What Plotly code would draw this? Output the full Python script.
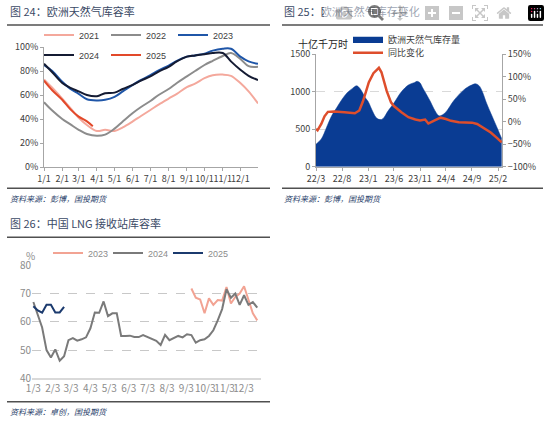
import plotly.graph_objects as go
import pandas as pd

FONT = "Noto Sans CJK SC, Liberation Sans, sans-serif"
LEG_FONT = "Liberation Sans, Noto Sans CJK SC, sans-serif"

# ---- 图24 欧洲天然气库容率 (%) ----
eu_days = ["01-01", "01-15", "02-01", "02-15", "03-01", "03-15", "04-01", "04-15",
           "05-01", "05-15", "06-01", "06-15", "07-01", "07-15", "08-01", "08-15",
           "09-01", "09-15", "10-01", "10-15", "11-01", "11-15", "12-01", "12-15", "12-31"]
eu_2021 = [73, 66, 57, 49, 41, 35, 30, 31, 30, 33, 38, 42.5, 47.5, 52, 57, 61,
           66.5, 69.5, 74, 76.5, 77, 76, 70, 63, 53]
eu_2022 = [54, 47, 40, 35.5, 31, 27.5, 26, 27, 32, 38, 45, 50, 55, 60, 65, 70,
           75.5, 80, 85, 88.5, 92.5, 95, 90, 84, 83.5]
eu_2023 = [85, 80, 71, 65, 61, 56.5, 55.5, 56, 58.5, 63, 68.5, 72.5, 76.5, 80.5, 84.5, 88.5,
           92, 93, 94.5, 97, 98.5, 98.5, 92, 88, 86]
eu_2024 = [86, 79, 70, 66, 63, 60, 59, 61.5, 62, 65, 68.5, 72, 75.5, 79.5, 83.5, 88,
           92, 93, 94, 95, 95, 88, 81, 76, 72.5]
eu_2025_days = ["01-01", "01-15", "02-01", "02-15", "03-01", "03-15", "03-25"]
eu_2025 = [72, 64, 56, 48, 42, 38, 34]

# ---- 图25 欧洲天然气库存变化 ----
stock_dates = ["2022-03-01", "2022-04-01", "2022-05-01", "2022-06-01", "2022-07-01", "2022-08-01",
               "2022-09-01", "2022-10-01", "2022-10-25", "2022-11-15", "2022-12-01", "2022-12-15",
               "2023-01-01", "2023-01-15", "2023-02-01", "2023-02-15", "2023-03-01", "2023-03-20",
               "2023-04-05", "2023-04-25", "2023-06-01", "2023-07-15", "2023-08-25", "2023-10-01",
               "2023-10-15", "2023-11-01", "2023-11-15", "2023-12-10", "2024-01-01", "2024-01-20",
               "2024-02-20", "2024-03-10", "2024-04-01", "2024-05-20", "2024-07-15", "2024-08-30",
               "2024-09-25", "2024-10-15", "2024-11-01", "2024-11-25", "2024-12-25", "2025-02-01",
               "2025-02-22"]
stock_twh = [300, 370, 520, 680, 790, 900, 990, 1045, 1080, 1040, 980, 920,
             870, 800, 715, 660, 635, 630, 660, 735, 850, 1000, 1090, 1125,
             1140, 1120, 1060, 960, 870, 780, 680, 690, 730, 890, 1025, 1090,
             1105, 1075, 1000, 850, 690, 490, 375]
yoy_dates = ["2022-03-01", "2022-03-10", "2022-04-01", "2022-04-20", "2022-05-10", "2022-06-15",
             "2022-08-15", "2022-10-15", "2022-11-10", "2022-12-01", "2022-12-20", "2023-01-05",
             "2023-02-01", "2023-02-20", "2023-03-05", "2023-03-20", "2023-04-20", "2023-05-15",
             "2023-06-01", "2023-07-15", "2023-08-25", "2023-10-05", "2023-11-01", "2023-12-01",
             "2023-12-20", "2024-01-20", "2024-03-01", "2024-04-01", "2024-05-01", "2024-06-15",
             "2024-09-01", "2024-10-01", "2024-11-10", "2024-12-20", "2025-01-25", "2025-02-22"]
yoy_pct = [-16, -19, -5, 12, 22, 23, 21, 19, 25, 45, 68, 88,
           108, 116, 120, 110, 68, 43, 35, 21, 10, 5, 3, 5,
           -4, 2, 9, 6, 2, -1, -2, -5, -14, -24, -36, -46]

# ---- 图26 中国LNG接收站库容率 (%) ----
lng_weeks = pd.date_range("2024-01-03", periods=52, freq="7D")
lng_2024 = [67, 62.5, 58, 50, 47.4, 50.2, 46.2, 47.8, 53.5, 54.2, 53.3, 53.8, 54.5,
            57.7, 63.3, 63.2, 67.2, 62, 63, 63, 55, 55, 55.1, 54.6, 54.6, 55.3,
            54.6, 54, 53.3, 51.8, 55.4, 53.5, 54.2, 55, 54.5, 55.6, 55.3, 52.6, 53.5,
            53.8, 55, 57, 60.5, 64.5, 71.5, 68.5, 70, 66, 69.4, 66, 67, 65]
lng_2023 = [71.8, 68.5, 67.9, 63, 68.3, 66, 67.7, 67.5, 72.3, 66.5, 68.8, 70,
            72.6, 68, 63, 60.5]
lng_2025 = [65.5, 64, 63.2, 66, 66, 63.3, 63.3, 65.3]
lng_ticks = ["2024-%02d-03" % m for m in range(1, 13)]


def px(x):
    return x / 550


def py(y):
    return 1 - y / 427


fig = go.Figure()

# 图24
eu_x = ["2021-" + d for d in eu_days]
for name, vals, color, lg in [("2021", eu_2021, "#F4A89C", "legend"),
                              ("2022", eu_2022, "#8C8C8C", "legend"),
                              ("2023", eu_2023, "#1F56A8", "legend"),
                              ("2024", eu_2024, "#141B33", "legend2")]:
    fig.add_trace(go.Scatter(x=eu_x, y=vals, name=name, mode="lines", line_shape="spline",
                             line=dict(color=color, width=2), xaxis="x", yaxis="y", legend=lg))
fig.add_trace(go.Scatter(x=["2021-" + d for d in eu_2025_days], y=eu_2025, name="2025",
                         mode="lines", line_shape="spline", line=dict(color="#E2492A", width=2),
                         xaxis="x", yaxis="y", legend="legend2"))

# 图25
fig.add_trace(go.Scatter(x=stock_dates, y=stock_twh, name="欧洲天然气库存量", mode="lines",
                         line=dict(color="#0A3C93", width=0.5), fill="tozeroy",
                         fillcolor="#0A3C93", line_shape="spline", xaxis="x2", yaxis="y2",
                         legend="legend3"))
fig.add_trace(go.Scatter(x=yoy_dates, y=yoy_pct, name="同比变化", mode="lines",
                         line=dict(color="#DE4E2C", width=2.5), xaxis="x2", yaxis="y3",
                         legend="legend4"))

# 图26
fig.add_trace(go.Scatter(x=lng_weeks[36:], y=lng_2023, name="2023", mode="lines",
                         line=dict(color="#F2A393", width=2), xaxis="x4", yaxis="y4",
                         legend="legend5"))
fig.add_trace(go.Scatter(x=lng_weeks, y=lng_2024, name="2024", mode="lines",
                         line=dict(color="#7A7A7A", width=2), xaxis="x4", yaxis="y4",
                         legend="legend6"))
fig.add_trace(go.Scatter(x=lng_weeks[:8], y=lng_2025, name="2025", mode="lines",
                         line=dict(color="#1B3A6E", width=2), xaxis="x4", yaxis="y4",
                         legend="legend7"))

axfont = dict(family=FONT, size=9, color="#404040")
leg = dict(orientation="h", xanchor="left", yanchor="top", bgcolor="rgba(0,0,0,0)",
           font=dict(family=LEG_FONT, size=9, color="#404040"), entrywidth=22)
leg26 = dict(leg, entrywidth=0, font=dict(family=LEG_FONT, size=9, color="#8C8C8C"))

fig.update_layout(
    width=550, height=427, margin=dict(l=0, r=0, t=0, b=0, autoexpand=False),
    paper_bgcolor="white", plot_bgcolor="white", font=dict(family=FONT),
    xaxis=dict(domain=[px(44), px(258)], range=["2021-01-01", "2021-12-31"], type="date",
               tick0="2021-01-01", dtick="M1", tickformat="%-m/%-d", ticks="outside",
               ticklen=3, tickcolor="#A6A6A6", showline=True, linecolor="#A6A6A6",
               showgrid=False, tickfont=axfont, tickangle=0, anchor="y"),
    yaxis=dict(domain=[py(167), py(47)], range=[0, 100], dtick=20, ticksuffix="%",
               ticks="outside", ticklen=3, tickcolor="#A6A6A6", showline=True,
               linecolor="#A6A6A6", showgrid=False, zeroline=False, tickfont=axfont, anchor="x"),
    xaxis2=dict(domain=[px(316), px(502)], range=["2022-03-01", "2025-02-24"], type="date",
                tick0="2022-03-01", dtick="M5", tickformat="%y/%-m", ticks="outside",
                ticklen=3, tickcolor="#A6A6A6", showline=True, linecolor="#A6A6A6",
                showgrid=False, tickfont=axfont, tickangle=0, anchor="y2"),
    yaxis2=dict(domain=[py(166.7), py(54.3)], range=[0, 1500], dtick=500, ticks="outside",
                ticklen=3, tickcolor="#A6A6A6", showline=True, linecolor="#A6A6A6",
                showgrid=True, gridcolor="#D9D9D9", griddash="dash", zeroline=False,
                tickfont=axfont, anchor="x2"),
    yaxis3=dict(range=[-100, 150], dtick=50, ticksuffix="%", overlaying="y2", side="right",
                anchor="x2", ticks="outside", ticklen=3, tickcolor="#A6A6A6", showline=True,
                linecolor="#A6A6A6", showgrid=False, zeroline=False, tickfont=axfont),
    xaxis4=dict(domain=[px(32.1), px(261)], range=["2024-01-01", "2024-12-31"], type="date",
                tickvals=lng_ticks, tickformat="%-m/%-d", ticks="", showline=True,
                linecolor="#D9D9D9", linewidth=1.5, showgrid=False, tickangle=0,
                tickfont=dict(family=FONT, size=10, color="#8C8C8C"), anchor="y4"),
    yaxis4=dict(domain=[py(378.3), py(265.3)], range=[40, 80], dtick=10, showline=False,
                showgrid=True, gridcolor="#C8C8C8", griddash="dash", zeroline=False,
                tickfont=dict(family=FONT, size=10, color="#8C8C8C"), anchor="x4"),
    legend=dict(leg, x=px(39), y=py(20.5)),
    legend2=dict(leg, x=px(39), y=py(40.5)),
    legend3=dict(leg, x=px(348), y=py(24.5), entrywidth=0),
    legend4=dict(leg, x=px(348), y=py(38.2), entrywidth=0),
    legend5=dict(leg26, x=px(48), y=py(238.5)),
    legend6=dict(leg26, x=px(108), y=py(238.5)),
    legend7=dict(leg26, x=px(168), y=py(238.5)),
)

title_font = dict(family=FONT, size=11, color="#3B4A66")
src_font = dict(family=FONT, size=8, color="#2B3F6B")
notes = [
    (8, 11, "图 24：欧洲天然气库容率", title_font),
    (282, 11, "图 25：欧洲天然气库存变化", title_font),
    (8, 223, "图 26：中国 LNG 接收站库容率", title_font),
    (8, 198, "<i>资料来源：彭博，国投期货</i>", src_font),
    (282, 198, "<i>资料来源：彭博，国投期货</i>", src_font),
    (8, 411, "<i>资料来源：卓创，国投期货</i>", src_font),
    (296, 43, "十亿千万时", dict(family=FONT, size=10, color="#262626")),
    (24, 255, "%", dict(family=FONT, size=10, color="#8C8C8C")),
]
for x, y, text, f in notes:
    fig.add_annotation(x=px(x), y=py(y), xref="paper", yref="paper", text=text,
                       showarrow=False, xanchor="left", yanchor="middle", font=f)

for x0, x1, y in [(7, 270, 25), (282, 543, 25), (7, 270, 188.3), (282, 543, 188.3),
                  (7, 270, 237.3), (7, 270, 401.7)]:
    fig.add_shape(type="line", xref="paper", yref="paper", x0=px(x0), x1=px(x1),
                  y0=py(y), y1=py(y), line=dict(color="#505050", width=1.5))

# page body default margin would push the figure 8px right and down
fig.write_html("out.html", post_script="document.body.style.margin='0';")
